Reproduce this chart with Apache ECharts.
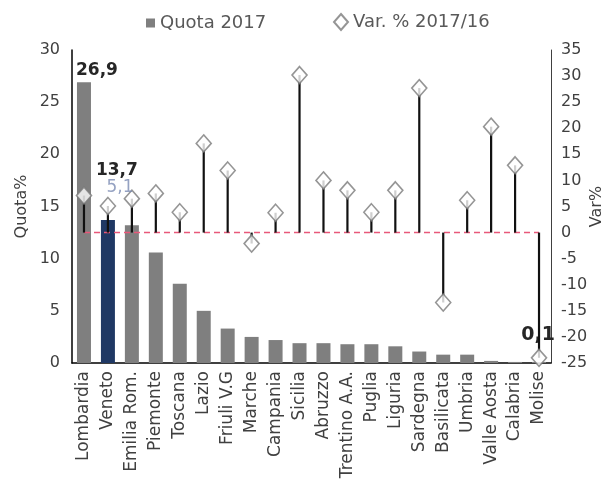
<!DOCTYPE html>
<html>
<head>
<meta charset="utf-8">
<script src="https://cdn.jsdelivr.net/npm/echarts@6/dist/echarts.min.js"></script>
<style>
  html, body { margin: 0; padding: 0; background: #fff; }
  #chart { width: 607px; height: 495px; }
</style>
</head>
<body>
<div id="chart"></div>
<script>
// Regioni, quota 2017 (%) e variazione % 2017/16
const regions = ['Lombardia', 'Veneto', 'Emilia Rom.', 'Piemonte', 'Toscana', 'Lazio', 'Friuli V.G',
  'Marche', 'Campania', 'Sicilia', 'Abruzzo', 'Trentino A.A.', 'Puglia', 'Liguria', 'Sardegna',
  'Basilicata', 'Umbria', 'Valle Aosta', 'Calabria', 'Molise'];
const quota2017 = [26.9, 13.7, 13.2, 10.6, 7.6, 5.0, 3.3, 2.5, 2.2, 1.9, 1.9, 1.8, 1.8, 1.6, 1.1,
  0.8, 0.8, 0.2, 0.1, 0.1];
const varPct = [7.1, 5.1, 6.5, 7.5, 3.9, 17.1, 11.9, -2.1, 3.8, 30.2, 10.0, 8.1, 3.9, 8.1, 27.7,
  -13.4, 6.2, 20.3, 12.9, -24.0];
const quotaTicks = { min: 0, max: 30, step: 5 };
const varTicks = { min: -25, max: 35, step: 5 };

const FONT = 'DejaVu Sans';
const comma = v => String(v).replace('.', ',');

const barData = quota2017.map((v, i) => {
  const item = { value: v };
  if (regions[i] === 'Veneto') {
    item.itemStyle = { color: '#1f3864' };
    item.label = { show: true, offset: [9, -36] };
  }
  if (regions[i] === 'Lombardia') item.label = { show: true, offset: [13, 2] };
  if (regions[i] === 'Molise') item.label = { show: true, offset: [-1, -12], fontSize: 19 };
  return item;
});

const varData = varPct.map((v, i) => {
  const item = { value: v };
  if (regions[i] === 'Veneto') item.label = { show: true };
  return item;
});

const chart = echarts.init(document.getElementById('chart'));
chart.setOption({
  animation: false,
  textStyle: { fontFamily: FONT },
  grid: { left: 72, right: 56, top: 50, bottom: 132, outerBoundsMode: 'none', containLabel: false },
  legend: [
    {
      data: [{ name: 'Quota 2017', icon: 'rect' }],
      left: 141, top: 9, itemWidth: 9, itemHeight: 9, itemGap: 4,
      textStyle: { fontFamily: FONT, fontSize: 18, color: '#595959' }
    },
    {
      data: [{ name: 'Var. % 2017/16', icon: 'diamond' }],
      left: 328, top: 8, itemWidth: 14, itemHeight: 16,
      textStyle: { fontFamily: FONT, fontSize: 18, color: '#595959' }
    }
  ],
  xAxis: {
    type: 'category',
    data: regions,
    axisLine: { lineStyle: { color: '#000', width: 1.5 } },
    axisTick: { show: false },
    axisLabel: { rotate: 90, interval: 0, fontSize: 17, color: '#404040', margin: 8 }
  },
  yAxis: [
    {
      type: 'value', min: quotaTicks.min, max: quotaTicks.max, interval: quotaTicks.step,
      name: 'Quota%', nameLocation: 'middle', nameGap: 42, nameRotate: 90,
      nameMoveOverlap: false,
      nameTextStyle: { fontSize: 16, color: '#404040' },
      axisLine: { show: true, lineStyle: { color: '#000', width: 1.5 } },
      axisTick: { show: false },
      splitLine: { show: false },
      axisLabel: { fontSize: 16, color: '#404040', margin: 12 }
    },
    {
      type: 'value', min: varTicks.min, max: varTicks.max, interval: varTicks.step,
      name: 'Var%', nameLocation: 'middle', nameGap: 38, nameRotate: 90,
      nameMoveOverlap: false,
      nameTextStyle: { fontSize: 16, color: '#404040' },
      axisLine: { show: true, lineStyle: { color: '#404040', width: 1 } },
      axisTick: { show: false },
      splitLine: { show: false },
      axisLabel: { fontSize: 16, color: '#404040', margin: 10 }
    }
  ],
  series: [
    {
      name: 'Quota 2017',
      type: 'bar',
      yAxisIndex: 0,
      barWidth: 14,
      data: barData,
      itemStyle: { color: '#7f7f7f' },
      label: {
        show: false, position: 'top', fontSize: 17, fontWeight: 'bold', color: '#262626',
        formatter: p => comma(p.value)
      },
      z: 2
    },
    {
      // zero reference line for the variation axis
      name: 'zero',
      type: 'line',
      yAxisIndex: 1,
      data: regions.map(() => 0),
      symbol: 'none',
      lineStyle: { color: '#e8587a', width: 1.5, type: [6, 4] },
      silent: true,
      z: 3
    },
    {
      // stems from zero to each variation value
      name: 'stems',
      type: 'custom',
      yAxisIndex: 1,
      data: varPct.map((v, i) => [i, v]),
      renderItem: (params, api) => {
        const p0 = api.coord([api.value(0), 0]);
        const p1 = api.coord([api.value(0), api.value(1)]);
        return {
          type: 'line',
          shape: { x1: p0[0], y1: p0[1], x2: p1[0], y2: p1[1] },
          style: { stroke: '#111', lineWidth: 2.2 }
        };
      },
      silent: true,
      z: 4
    },
    {
      name: 'Var. % 2017/16',
      type: 'scatter',
      yAxisIndex: 1,
      symbol: 'diamond',
      symbolSize: [15, 17],
      data: varData,
      itemStyle: { color: '#fff', borderColor: '#7a7a7a', borderWidth: 1.6 },
      label: {
        show: false, position: 'top', fontSize: 17, color: '#7a8bb3', offset: [12, 4],
        formatter: p => comma(p.value)
      },
      z: 5
    }
  ]
});
</script>
</body>
</html>
